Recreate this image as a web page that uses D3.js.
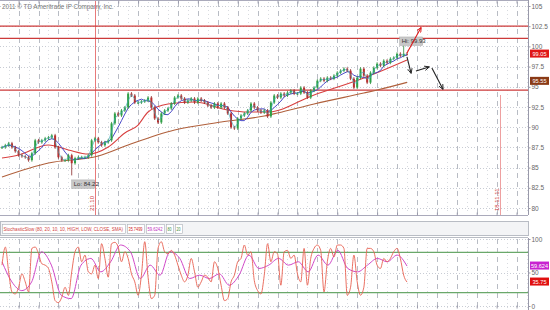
<!DOCTYPE html>
<html>
<head>
<meta charset="utf-8">
<script src="https://cdn.jsdelivr.net/npm/d3@7"></script>
<style>
  body { margin: 0; background: #fff; }
  svg { display: block; font-family: Arial, "Liberation Sans", sans-serif; }
</style>
</head>
<body>
<svg width="550" height="310"></svg>
<script>
// closing prices, one per bar
const closes = [
  87.51, 87.76, 88.00, 87.51, 87.02, 86.53, 86.40, 86.28, 85.91, 86.77,
  88.37, 88.13, 88.37, 88.62, 88.74, 88.99, 87.51, 86.28, 85.91, 85.91,
  86.53, 85.54, 86.16, 86.28, 86.28, 86.28, 86.53, 88.37, 88.62, 88.13,
  87.76, 88.13, 88.37, 90.47, 91.70, 91.45, 92.07, 92.44, 94.16, 93.92,
  93.05, 93.05, 93.18, 93.30, 93.67, 92.44, 91.08, 90.59, 91.70, 92.07,
  92.32, 92.93, 93.67, 93.92, 93.55, 93.05, 93.30, 93.55, 93.05, 93.55,
  93.30, 93.05, 92.68, 92.44, 92.93, 92.44, 92.93, 92.44, 91.70, 89.98,
  89.85, 91.08, 91.45, 91.70, 92.07, 92.93, 92.44, 92.07, 91.82, 92.07,
  91.33, 93.05, 93.92, 93.67, 94.16, 93.92, 94.29, 94.53, 94.16, 94.16,
  94.90, 94.29, 93.67, 94.53, 94.90, 95.76, 96.01, 95.76, 96.13, 96.01,
  96.38, 96.75, 97.00, 97.24, 97.00, 96.01, 94.90, 96.13, 97.24, 96.38,
  95.52, 96.75, 97.36, 97.86, 97.61, 98.23, 97.98, 98.47, 98.60, 99.09,
  98.84, 99.09, 99.05
];
const hiIdx = 121, hiValue = 99.93;
const loIdx = 21, loValue = 84.22;

// slower moving averages: [bar, value]
const redMA = [[0,86.19],[5,86.56],[14,87.80],[20,87.18],[26,86.68],[32,87.55],[37,89.28],[41,90.27],
  [44,91.88],[50,92.87],[58,93.12],[68,92.13],[74,91.88],[80,91.88],[94,93.99],[109,96.09],[122,98.32]];
const brownMA = [[0,83.84],[14,85.57],[29,86.44],[38,87.80],[52,89.65],[66,90.64],[79,91.39],[83,91.76],
  [94,92.87],[109,94.23],[113,94.60],[122,95.55]];

const levels = [102.5, 101.0, 94.6];
const dateMarks = [{ idx: 28, label: "21.10" }, { idx: 150, label: "18.11.11" }];
const priceTicks = [80, 82.5, 85, 87.5, 90, 92.5, 95, 97.5, 100, 102.5, 105];

// hand drawn arrows: [bar, price] -> [bar, price]
const arrows = [
  { from: [122, 99.18], to: [126.2, 102.3], color: "#e01818" },
  { from: [122, 98.69], to: [123.2, 96.71], color: "#222" },
  { from: [124.7, 96.96], to: [128.6, 97.45], color: "#222" },
  { from: [129.5, 97.33], to: [132.8, 94.73], color: "#222" }
];

// Stochastic slow
const stochK = [
  61, 88, 51, 21, 18, 28, 48, 36, 21, 86,
  88, 78, 63, 61, 56, 36, 8, 5, 13, 28,
  16, 51, 81, 88, 66, 76, 51, 48, 61, 41,
  93, 71, 43, 93, 95, 88, 66, 81, 71, 48,
  36, 16, 46, 96, 43, 11, 16, 86, 96, 81,
  78, 83, 76, 61, 46, 36, 46, 71, 51, 28,
  36, 46, 43, 36, 66, 56, 31, 8, 11, 36,
  46, 66, 71, 91, 76, 81, 38, 23, 18, 46,
  93, 66,
  81, 78, 31, 81, 83, 71, 76, 48, 36, 86,
  31, 71, 86, 91, 83, 21, 66, 86, 73, 91,
  91, 86, 16, 28, 76, 36, 16, 28, 86, 86,
  81, 61, 56, 71, 66, 71, 81, 86, 71, 46,
  35.7499
];
const stochD = [
  66, 36, 23, 36, 81, 61, 16, 11, 61, 71, 51, 66, 91, 81, 41, 61, 46, 81, 71, 41,
  46, 41, 48, 31, 46, 76, 56, 61,
  71, 61, 66, 51, 76, 61, 83, 56, 51, 61, 71, 66, 76, 59.6242
];
const stochTicks = [0, 50, 100];
const stochBands = [20, 80];

const plotRight = 528;
const svg = d3.select("svg");

const x = d3.scaleLinear().domain([0, closes.length - 1]).range([2, 407]);
const y = d3.scaleLinear().domain([80, 105]).range([208, 6]);
const ys = d3.scaleLinear().domain([0, 100]).range([306, 239]);

const gridMajor = d3.range(5, 160, 6).filter(function(i) { return x(i) < plotRight; });
const gridMinor = d3.range(2, 160, 6).filter(function(i) { return x(i) < plotRight; });

function sma(arr, n) {
  return arr.map(function(d, i) {
    return d3.mean(arr.slice(Math.max(0, i - n + 1), i + 1));
  });
}

function vgrid(g, y1, y2) {
  g.selectAll(".vminor").data(gridMinor).enter().append("line")
    .attr("x1", function(d) { return Math.round(x(d)) + 0.5; })
    .attr("x2", function(d) { return Math.round(x(d)) + 0.5; })
    .attr("y1", y1).attr("y2", y2)
    .attr("stroke", "#d8dbe0").attr("stroke-dasharray", "1,3");
  g.selectAll(".vgrid").data(gridMajor).enter().append("line")
    .attr("x1", function(d) { return Math.round(x(d)) + 0.5; })
    .attr("x2", function(d) { return Math.round(x(d)) + 0.5; })
    .attr("y1", y1).attr("y2", y2)
    .attr("stroke", "#b8bcc4").attr("stroke-dasharray", "5,4");
}

// ---------- main panel ----------
const main = svg.append("g").attr("class", "main");

main.selectAll(".hgrid").data(priceTicks).enter().append("line")
  .attr("x1", 0).attr("x2", plotRight)
  .attr("y1", function(d) { return Math.round(y(d)) + 0.5; })
  .attr("y2", function(d) { return Math.round(y(d)) + 0.5; })
  .attr("stroke", "#c8ccd4").attr("stroke-dasharray", "1,2");
vgrid(main, 2, 214);

// panel frame
main.append("line").attr("x1", 0).attr("x2", plotRight).attr("y1", 0.5).attr("y2", 0.5).attr("stroke", "#aab");
main.append("line").attr("x1", 0).attr("x2", plotRight).attr("y1", 215.5).attr("y2", 215.5).attr("stroke", "#aab");
main.append("g").attr("transform", "translate(0,0.5)")
  .call(d3.axisBottom(x).tickValues(gridMajor).tickFormat("").tickSize(3).tickSizeOuter(0))
  .call(function(g) { g.select(".domain").remove(); g.selectAll("line").attr("stroke", "#99a"); });
main.append("g").attr("transform", "translate(0,215.5)")
  .call(d3.axisTop(x).tickValues(gridMajor).tickFormat("").tickSize(3).tickSizeOuter(0))
  .call(function(g) { g.select(".domain").remove(); g.selectAll("line").attr("stroke", "#99a"); });

// right price axis
main.append("g").attr("transform", "translate(" + (plotRight + 0.5) + ",0)")
  .call(d3.axisRight(y).tickValues(priceTicks).tickFormat(function(d) { return String(d); }).tickSize(2).tickSizeOuter(0))
  .call(function(g) {
    g.select(".domain").attr("stroke", "#99a").attr("d", "M0,0V215");
    g.selectAll("line").attr("stroke", "#99a");
    g.selectAll("text").attr("fill", "#666").attr("font-size", 6.5).attr("x", 3);
  });

// copyright
main.append("text").attr("x", 2).attr("y", 9).attr("font-size", 6.3).attr("fill", "#777")
  .text("2011 \u00a9 TD Ameritrade IP Company, Inc.");

// date markers
dateMarks.forEach(function(m) {
  const mx = Math.round(x(m.idx)) + 0.5;
  main.append("line").attr("x1", mx).attr("x2", mx)
    .attr("y1", m.idx < closes.length ? 1 : 95).attr("y2", 215)
    .attr("stroke", m.idx < closes.length ? "#e87a7a" : "#eea0a0").attr("stroke-width", 1);
  main.append("text")
    .attr("transform", "translate(" + (mx - 1.5) + ",211) rotate(-90)")
    .attr("font-size", 6).attr("fill", "#d04040").text(m.label);
});

// horizontal levels
main.selectAll(".level").data(levels).enter().append("line")
  .attr("x1", 0).attr("x2", plotRight)
  .attr("y1", function(d) { return y(d); }).attr("y2", function(d) { return y(d); })
  .attr("stroke", "#cc3a3a").attr("stroke-width", 1.2);

// moving averages
const line = d3.line().x(function(d) { return x(d[0]); }).y(function(d) { return y(d[1]); })
  .curve(d3.curveMonotoneX);
main.append("path").datum(brownMA).attr("d", line)
  .attr("fill", "none").attr("stroke", "#b0603c").attr("stroke-width", 1.1);
main.append("path").datum(redMA).attr("d", line)
  .attr("fill", "none").attr("stroke", "#d84040").attr("stroke-width", 1.1);

const blue = sma(closes, 5).map(function(v, i) { return [i, v]; });
const teal = sma(closes, 2).map(function(v, i) { return [i, v]; });
const straight = d3.line().x(function(d) { return x(d[0]); }).y(function(d) { return y(d[1]); });
main.append("path").datum(blue).attr("d", straight)
  .attr("fill", "none").attr("stroke", "#4848c8").attr("stroke-width", 1);

// candles
const bars = closes.map(function(c, i) {
  const o = i ? closes[i - 1] : c;
  return { i: i, o: o, c: c,
    hi: i === hiIdx ? hiValue : Math.max(o, c),
    lo: i === loIdx ? loValue : Math.min(o, c) };
});
const cg = main.append("g").attr("class", "candles");
cg.selectAll("line").data(bars).enter().append("line")
  .attr("x1", function(d) { return x(d.i); }).attr("x2", function(d) { return x(d.i); })
  .attr("y1", function(d) { return y(d.hi) - 1.5; }).attr("y2", function(d) { return y(d.lo) + 1.5; })
  .attr("stroke", function(d) { return d.c >= d.o ? "#2f8a3a" : "#8a2a2a"; }).attr("stroke-width", 0.8);
cg.selectAll("rect").data(bars).enter().append("rect")
  .attr("x", function(d) { return x(d.i) - 1; }).attr("width", 2)
  .attr("y", function(d) { return y(Math.max(d.o, d.c)); })
  .attr("height", function(d) { return Math.max(1, Math.abs(y(d.o) - y(d.c))); })
  .attr("fill", function(d) { return d.c >= d.o ? "#2ea046" : "#b83030"; });

main.append("path").datum(teal).attr("d", straight)
  .attr("fill", "none").attr("stroke", "#3aa8b8").attr("stroke-width", 0.8).attr("opacity", 0.8);

// hi / lo labels
function tag(g, cx, cy, txt) {
  const t = g.append("g").attr("transform", "translate(" + cx + "," + cy + ")");
  t.append("rect").attr("x", 0).attr("y", 0).attr("width", 23).attr("height", 8.5)
    .attr("fill", "#c8c8c8").attr("stroke", "#aaa").attr("stroke-width", 0.5);
  t.append("text").attr("x", 2).attr("y", 6.5).attr("font-size", 6).attr("fill", "#333").text(txt);
}
tag(main, x(hiIdx) - 4, y(hiValue) - 10, "Hi: " + hiValue.toFixed(2));
tag(main, x(loIdx), y(loValue) + 6, "Lo: " + loValue.toFixed(2));

// arrows
const defs = svg.append("defs");
arrows.forEach(function(a, k) {
  defs.append("marker").attr("id", "ah" + k).attr("viewBox", "0 0 10 10")
    .attr("refX", 8).attr("refY", 5).attr("markerWidth", 5).attr("markerHeight", 5)
    .attr("orient", "auto").append("path").attr("d", "M0,1L9,5L0,9").attr("fill", "none")
    .attr("stroke", a.color).attr("stroke-width", 1.6);
  main.append("line")
    .attr("x1", x(a.from[0])).attr("y1", y(a.from[1]))
    .attr("x2", x(a.to[0])).attr("y2", y(a.to[1]))
    .attr("stroke", a.color).attr("stroke-width", 1.1).attr("marker-end", "url(#ah" + k + ")");
});

// right value boxes
function valBox(g, cy, txt, fill) {
  g.append("rect").attr("x", plotRight + 2).attr("y", cy - 4.5).attr("width", 19).attr("height", 8).attr("fill", fill);
  g.append("text").attr("x", plotRight + 11.5).attr("y", cy + 1.8).attr("text-anchor", "middle")
    .attr("font-size", 5.6).attr("fill", "#fff").text(txt);
}
valBox(main, y(closes[closes.length - 1]), closes[closes.length - 1].toFixed(2), "#e01818");
valBox(main, y(brownMA[brownMA.length - 1][1]) - 1, brownMA[brownMA.length - 1][1].toFixed(2), "#8a3a16");

// ---------- stochastic panel ----------
const st = svg.append("g").attr("class", "stoch");

st.append("rect").attr("x", 0.5).attr("y", 221.5).attr("width", plotRight).attr("height", 14)
  .attr("fill", "#f3f4f6").attr("stroke", "#b8bcc4");
const header = [
  { txt: "StochasticSlow (80, 20, 10, 10, HIGH, LOW, CLOSE, SMA)", w: 123, color: "#d04040" },
  { txt: stochK[stochK.length - 1].toFixed(4), w: 17, color: "#d02020" },
  { txt: stochD[stochD.length - 1].toFixed(4), w: 18, color: "#c030c0" },
  { txt: String(stochBands[1]), w: 7, color: "#3a8a3a" },
  { txt: String(stochBands[0]), w: 7, color: "#3a8a3a" }
];
let hx = 2;
header.forEach(function(h) {
  st.append("rect").attr("x", hx + 0.5).attr("y", 224.5).attr("width", h.w).attr("height", 9)
    .attr("fill", "#fff").attr("stroke", "#aab0b8").attr("stroke-width", 0.6);
  const t = st.append("text").attr("x", 0).attr("y", 0).attr("font-size", 5.5)
    .attr("fill", h.color).text(h.txt);
  // squeeze the label horizontally so it sits inside its box
  const natural = t.node().getComputedTextLength();
  const k = Math.min(1, (h.w - 3) / natural);
  t.attr("transform", "translate(" + (hx + 1.5) + ",231.3) scale(" + k + ",1)");
  hx += h.w + 2;
});

st.append("line").attr("x1", 0).attr("x2", plotRight).attr("y1", 237.5).attr("y2", 237.5).attr("stroke", "#b8bcc4");

vgrid(st, 239, 308);
st.selectAll(".hgrid").data(stochTicks).enter().append("line")
  .attr("x1", 0).attr("x2", plotRight)
  .attr("y1", function(d) { return Math.round(ys(d)) + 0.5; })
  .attr("y2", function(d) { return Math.round(ys(d)) + 0.5; })
  .attr("stroke", "#c8ccd4").attr("stroke-dasharray", "1,2");

st.selectAll(".band").data(stochBands).enter().append("line")
  .attr("x1", 0).attr("x2", plotRight)
  .attr("y1", function(d) { return ys(d); }).attr("y2", function(d) { return ys(d); })
  .attr("stroke", "#6aa86a").attr("stroke-width", 1.3);

st.append("g").attr("transform", "translate(" + (plotRight + 0.5) + ",0)")
  .call(d3.axisRight(ys).tickValues(stochTicks).tickSize(2).tickSizeOuter(0))
  .call(function(g) {
    g.select(".domain").attr("stroke", "#99a").attr("d", "M0,238V310");
    g.selectAll("line").attr("stroke", "#99a");
    g.selectAll("text").attr("fill", "#666").attr("font-size", 6.5).attr("x", 3);
  });
st.append("g").attr("transform", "translate(0,308.5)")
  .call(d3.axisTop(x).tickValues(gridMajor).tickFormat("").tickSize(3).tickSizeOuter(0))
  .call(function(g) { g.select(".domain").remove(); g.selectAll("line").attr("stroke", "#99a"); });

const xk = d3.scaleLinear().domain([0, stochK.length - 1]).range(x.range());
const xd = d3.scaleLinear().domain([0, stochD.length - 1]).range(x.range());
st.append("path").datum(stochD)
  .attr("d", d3.line().x(function(d, i) { return xd(i); }).y(function(d) { return ys(d); }).curve(d3.curveMonotoneX))
  .attr("fill", "none").attr("stroke", "#d048c8").attr("stroke-width", 1);
st.append("path").datum(stochK)
  .attr("d", d3.line().x(function(d, i) { return xk(i); }).y(function(d) { return ys(d); }).curve(d3.curveMonotoneX))
  .attr("fill", "none").attr("stroke", "#e86050").attr("stroke-width", 0.9);

valBox(st, ys(stochD[stochD.length - 1]), stochD[stochD.length - 1].toFixed(3), "#c822d0");
valBox(st, ys(stochK[stochK.length - 1]), stochK[stochK.length - 1].toFixed(2), "#e01010");
</script>
</body>
</html>
